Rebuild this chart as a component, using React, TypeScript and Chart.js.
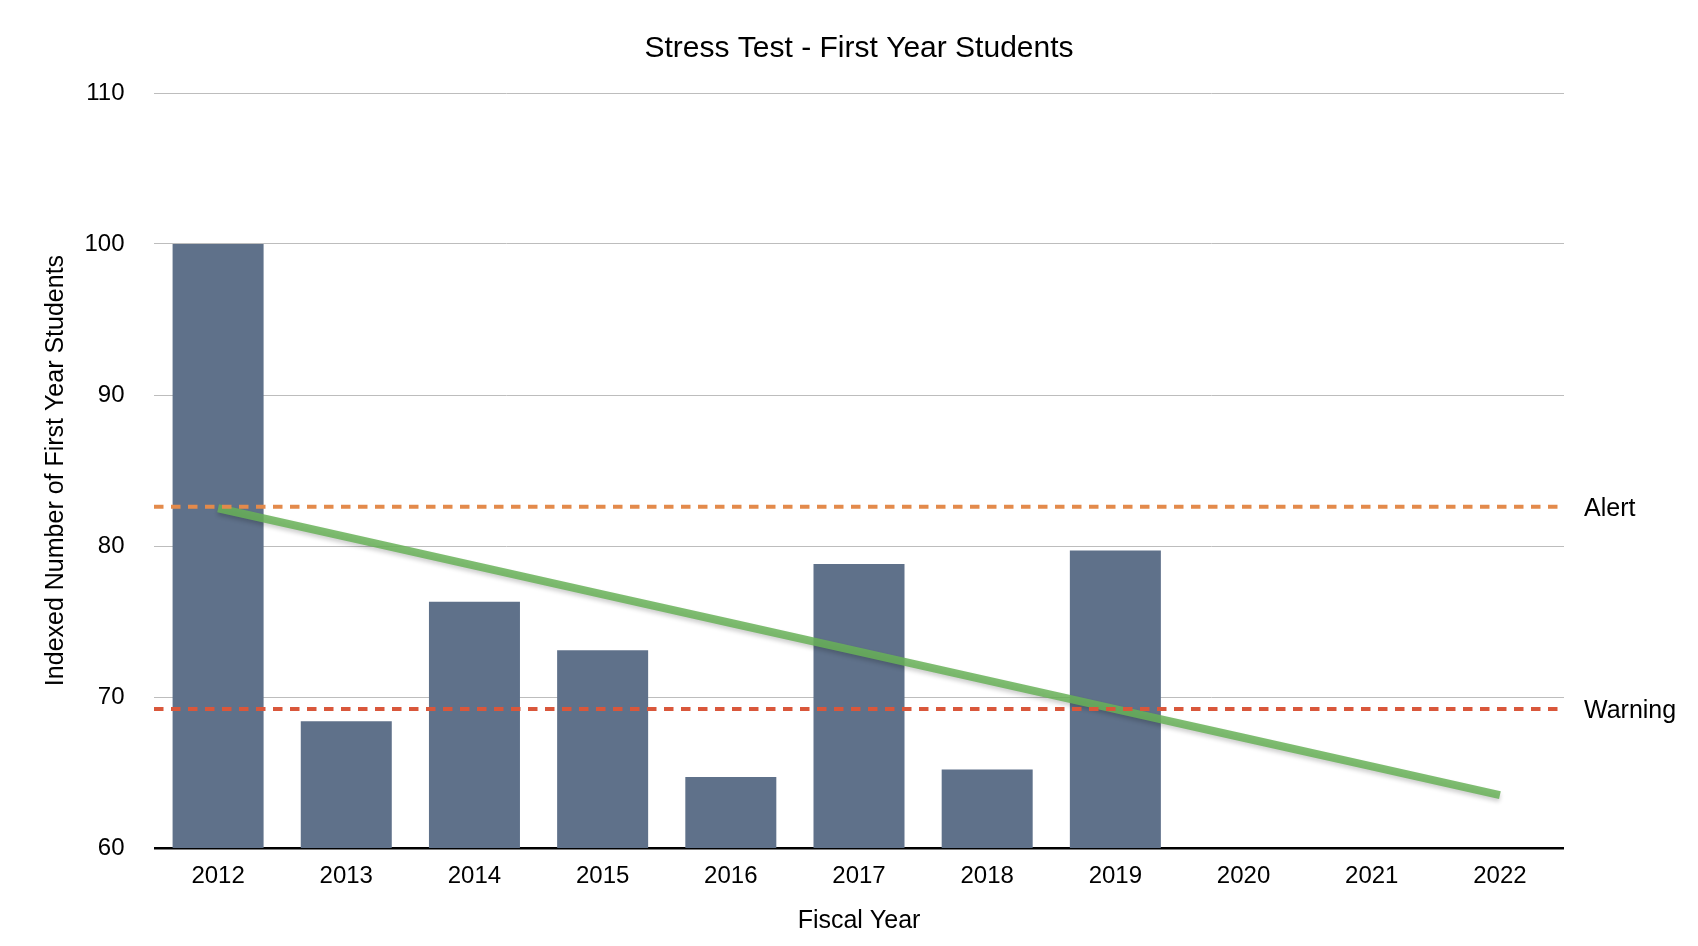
import React, { useEffect, useRef } from "react";
import { Chart, registerables } from "chart.js";

Chart.register(...registerables);

const years = ["2012", "2013", "2014", "2015", "2016", "2017", "2018", "2019", "2020", "2021", "2022"];
const studentIndex = [100, 68.4, 76.3, 73.1, 64.7, 78.8, 65.2, 79.7, null, null, null];
const trendValues = [82.5, 80.6, 78.7, 76.8, 74.9, 73.0, 71.1, 69.2, 67.3, 65.4, 63.5];
const thresholdNames = ["Alert", "Warning"];
const thresholdValues = [82.6, 69.2];
const thresholdColors = ["#E38A4B", "#D9573B"];
const yMin = 60;
const yMax = 110;
const yStep = 10;
const chartTitle = "Stress Test - First Year Students";

const FONT = "'Liberation Sans', Arial, Helvetica, sans-serif";

const thresholdPlugin = {
  id: "thresholds",
  afterDatasetsDraw(chart: any) {
    const { ctx, chartArea, scales } = chart;
    const y = scales.y;
    ctx.save();
    thresholdValues.forEach((v, i) => {
      const py = y.getPixelForValue(v);
      ctx.beginPath();
      ctx.setLineDash([9.5, 7.5]);
      ctx.lineWidth = 4;
      ctx.strokeStyle = thresholdColors[i];
      ctx.moveTo(chartArea.left, py);
      ctx.lineTo(chartArea.right, py);
      ctx.stroke();
      ctx.setLineDash([]);
      ctx.fillStyle = "#000";
      ctx.font = `25px ${FONT}`;
      ctx.textAlign = "left";
      ctx.textBaseline = "middle";
      ctx.fillText(thresholdNames[i], chartArea.right + 20, py + 2);
    });
    ctx.restore();
  },
};

const titlePlugin = {
  id: "areaTitle",
  afterDraw(chart: any) {
    const { ctx, chartArea } = chart;
    ctx.save();
    ctx.fillStyle = "#000";
    ctx.font = `30px ${FONT}`;
    ctx.textAlign = "center";
    ctx.textBaseline = "middle";
    ctx.fillText(chartTitle, (chartArea.left + chartArea.right) / 2, 49);
    ctx.restore();
  },
};

const shadowPlugin = {
  id: "lineShadow",
  beforeDatasetDraw(chart: any, args: any) {
    if (args.meta.type === "line") {
      const ctx = chart.ctx;
      ctx.save();
      ctx.shadowColor = "rgba(0,0,0,0.22)";
      ctx.shadowBlur = 4;
      ctx.shadowOffsetY = 3;
    }
  },
  afterDatasetDraw(chart: any, args: any) {
    if (args.meta.type === "line") {
      chart.ctx.restore();
    }
  },
};

export default function App() {
  const ref = useRef<HTMLCanvasElement>(null);
  useEffect(() => {
    if (!ref.current) return;
    const chart = new Chart(ref.current, {
      type: "bar",
      data: {
        labels: years,
        datasets: [
          {
            type: "line" as any,
            label: "Trend",
            data: trendValues,
            borderColor: "rgba(104,178,88,0.85)",
            borderWidth: 8,
            borderCapStyle: "butt",
            pointRadius: 0,
            fill: false,
            tension: 0,
            order: 0,
          } as any,
          {
            type: "bar",
            label: "Indexed Number of First Year Students",
            data: studentIndex as any,
            backgroundColor: "#5F718A",
            barPercentage: 0.71,
            categoryPercentage: 1,
            order: 1,
          },
        ],
      },
      options: {
        responsive: false,
        animation: false,
        layout: { padding: { left: 0, right: 134, top: 93, bottom: 0 } },
        plugins: {
          legend: { display: false },
          tooltip: { enabled: false },
          title: { display: false },
        },
        scales: {
          x: {
            grid: { display: false, drawTicks: false },
            border: { display: false },
            ticks: {
              color: "#000",
              font: { family: FONT, size: 24 },
              padding: 14,
              maxRotation: 0,
            },
            title: {
              display: true,
              text: "Fiscal Year",
              color: "#000",
              font: { family: FONT, size: 25 },
              padding: { top: 14, bottom: 10 },
            },
            afterFit(scale: any) {
              scale.height = 98;
            },
          },
          y: {
            min: yMin,
            max: yMax,
            grid: {
              drawTicks: false,
              color: (c: any) => (c.tick && c.tick.value === yMin ? "#000" : "#BDBDBD"),
              lineWidth: (c: any) => (c.tick && c.tick.value === yMin ? 2.5 : 1),
            },
            border: { display: false },
            ticks: {
              stepSize: yStep,
              color: "#000",
              font: { family: FONT, size: 24 },
              padding: 29.5,
            },
            title: {
              display: true,
              text: "Indexed Number of First Year Students",
              color: "#000",
              font: { family: FONT, size: 25 },
              padding: { top: 41, bottom: 0 },
            },
            afterFit(scale: any) {
              scale.width = 154;
            },
          },
        },
      },
      plugins: [thresholdPlugin, shadowPlugin, titlePlugin],
    });
    return () => chart.destroy();
  }, []);
  return (
    <div style={{ position: "fixed", left: 0, top: 0, width: 1698, height: 946, background: "#fff" }}>
      <canvas ref={ref} width={1698} height={946} style={{ display: "block" }} />
    </div>
  );
}
